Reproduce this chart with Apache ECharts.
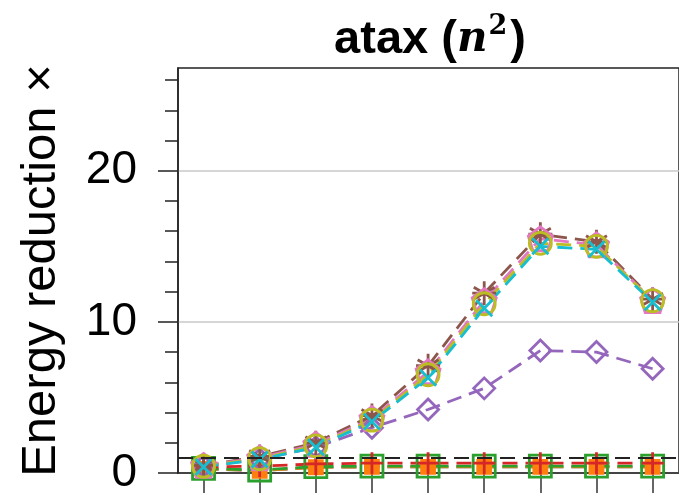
<!DOCTYPE html>
<html>
<head>
<meta charset="utf-8">
<script src="https://cdn.jsdelivr.net/npm/echarts@6/dist/echarts.min.js"></script>
<style>
  html, body { margin: 0; padding: 0; background: #fff; }
  #chart { width: 679px; height: 496px; }
</style>
</head>
<body>
<div id="chart"></div>
<script>
// Problem-size steps along the x axis (index positions)
const steps = [0, 1, 2, 3, 4, 5, 6, 7, 8];

// Energy reduction per configuration
const blueVals   = [0.27, 0.15, 0.38, 0.40, 0.40, 0.40, 0.40, 0.40, 0.40];
const orangeVals = [0.27, 0.15, 0.38, 0.40, 0.40, 0.40, 0.40, 0.40, 0.40];
const greenVals  = [0.30, 0.20, 0.42, 0.45, 0.45, 0.45, 0.45, 0.45, 0.45];
const redVals    = [0.40, 0.45, 0.60, 0.65, 0.65, 0.65, 0.65, 0.65, 0.65];
const purpleVals = [0.45, 0.90, 1.70, 3.00, 4.20, 5.60, 8.10, 8.00, 6.90];
const brownVals  = [0.50, 1.10, 2.00, 3.80, 7.10, 11.9, 15.8, 15.3, 11.5];
const pinkVals   = [0.50, 1.00, 1.90, 3.60, 6.70, 11.4, 15.5, 15.1, 11.4];
const oliveVals  = [0.45, 0.95, 1.80, 3.50, 6.50, 11.2, 15.2, 15.0, 11.4];
const cyanVals   = [0.40, 0.90, 1.70, 3.40, 6.30, 10.9, 15.0, 14.8, 11.3];

// Reference level (no reduction)
const baseline = 1;

// Y axis ticks
const majorTicks = [0, 10, 20];
const minorTicks = [2, 4, 6, 8, 12, 14, 16, 18, 22, 24, 26];

const pair = vals => steps.map((s, i) => [s, vals[i]]);

const SYM = {
  x: 'path://M-1,-1 L1,1 M-1,1 L1,-1',
  plus: 'path://M-1,0 L1,0 M0,-1 L0,1',
  star: 'path://M0,-1 L0,1 M-0.87,-0.5 L0.87,0.5 M-0.87,0.5 L0.87,-0.5 M-1,0 L1,0',
  pent: 'path://M0,-1 L0.951,-0.309 L0.588,0.809 L-0.588,0.809 L-0.951,-0.309 Z',
  tri: 'path://M0,0 L0,1 M0,0 L-0.87,-0.5 M0,0 L0.87,-0.5'
};

function mkSeries(name, vals, color, symbol, size, filled) {
  return {
    name: name,
    type: 'line',
    data: pair(vals),
    symbol: symbol,
    symbolSize: size,
    showAllSymbol: true,
    lineStyle: { color: color, width: 2.8, type: [15, 8] },
    itemStyle: {
      color: filled ? color : 'rgba(0,0,0,0)',
      borderColor: color,
      borderWidth: 2.8
    },
    emphasis: { disabled: true },
    animation: false
  };
}

const series = [
  mkSeries('blue', blueVals, '#1f77b4', SYM.tri, 8, false),
  mkSeries('orange', orangeVals, '#ff7f0e', 'rect', 13, true),
  mkSeries('green', greenVals, '#2ca02c', 'rect', 22, false),
  mkSeries('red', redVals, '#d62728', SYM.plus, 22, false),
  mkSeries('purple', purpleVals, '#9467bd', 'diamond', 21, false),
  mkSeries('brown', brownVals, '#8c564b', SYM.star, 24, false),
  mkSeries('pink', pinkVals, '#e377c2', SYM.pent, 24, false),
  mkSeries('olive', oliveVals, '#bcbd22', 'circle', 22, false),
  mkSeries('cyan', cyanVals, '#17becf', SYM.x, 16, false)
];

// Dashed reference line at 1x
series[0].markLine = {
  silent: true,
  symbol: 'none',
  label: { show: false },
  lineStyle: { color: '#222', width: 2, type: [15, 8] },
  data: [{ yAxis: baseline }],
  animation: false
};

const chart = echarts.init(document.getElementById('chart'), null, { renderer: 'canvas' });
chart.setOption({
  backgroundColor: '#fff',
  animation: false,
  title: {
    text: '{b|atax }{p|(}{n|n}{s|2}{p|)}',
    left: 425,
    top: 8,
    textAlign: 'center',
    textStyle: {
      rich: {
        b: { fontFamily: 'Liberation Sans', fontWeight: 'bold', fontSize: 47, lineHeight: 54, color: '#000' },
        p: { fontFamily: 'Liberation Sans', fontWeight: 'bold', fontSize: 47, lineHeight: 54, color: '#000' },
        n: { fontFamily: 'DejaVu Serif', fontStyle: 'italic', fontWeight: 'bold', fontSize: 42, lineHeight: 54, color: '#000' },
        s: { fontFamily: 'DejaVu Serif', fontSize: 27, lineHeight: 30, color: '#000', verticalAlign: 'top', padding: [0, 3, 0, 1] }
      }
    }
  },
  grid: {
    left: 178, right: -10, top: 68, bottom: 19,
    show: true, borderColor: '#222', borderWidth: 1.5, backgroundColor: 'transparent'
  },
  xAxis: {
    type: 'value',
    min: -0.455,
    max: 8.47,
    axisLine: { onZero: false, lineStyle: { color: '#222', width: 1.5 } },
    axisTick: { length: 20, lineStyle: { color: '#666', width: 2 }, customValues: steps },
    axisLabel: { show: false },
    splitLine: { show: false }
  },
  yAxis: [
    {
      type: 'value',
      min: 0,
      max: 26.8,
      interval: 10,
      name: 'Energy reduction ×',
      nameLocation: 'middle',
      nameGap: 112,
      nameTextStyle: { fontFamily: 'Liberation Sans', fontSize: 49, color: '#000' },
      axisLine: { show: true, onZero: false, lineStyle: { color: '#222', width: 1.5 } },
      axisTick: { length: 20, lineStyle: { color: '#222', width: 1.5 }, customValues: majorTicks },
      axisLabel: {
        fontFamily: 'Liberation Sans', fontSize: 46, color: '#000', margin: 41,
        customValues: majorTicks
      },
      splitLine: { show: true, lineStyle: { color: '#c8c8c8', width: 1.5 } }
    },
    {
      type: 'value',
      position: 'left',
      min: 0,
      max: 26.8,
      interval: 2,
      axisLine: { show: false, onZero: false },
      axisTick: { length: 13, lineStyle: { color: '#222', width: 1.5 }, customValues: minorTicks },
      axisLabel: { show: false },
      splitLine: { show: false }
    }
  ],
  series: series
});
</script>
</body>
</html>
